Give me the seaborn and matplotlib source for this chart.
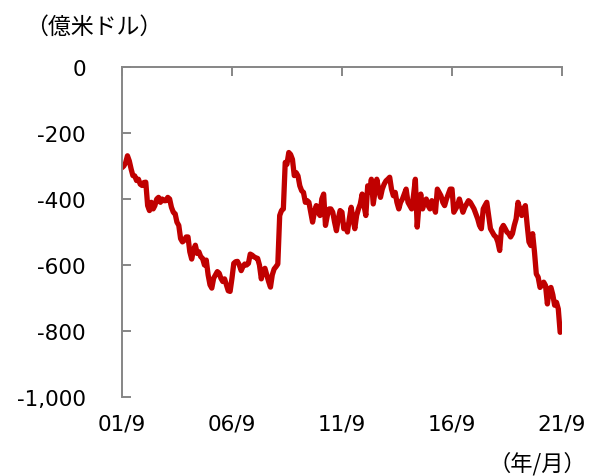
# US balance series, monthly, 2001/9 - 2021/8
import pandas as pd
import numpy as np
import seaborn as sns
import matplotlib.pyplot as plt

sns.set_style('white')
plt.rcParams['font.family'] = ['DejaVu Sans', 'Noto Sans CJK JP']
plt.rcParams['text.color'] = 'black'
plt.rcParams['xtick.labelcolor'] = 'black'
plt.rcParams['ytick.labelcolor'] = 'black'

# values (億米ドル)
values = [
    -305, -300, -290, -269, -285, -310, -329, -330, -344, -340,
    -355, -359, -350, -349, -420, -435, -410, -430, -420, -400,
    -395, -410, -400, -405, -405, -395, -400, -425, -440, -445,
    -470, -480, -520, -530, -525, -515, -515, -560, -582, -555,
    -540, -565, -560, -575, -580, -600, -585, -630, -660, -670,
    -640, -630, -620, -625, -640, -650, -642, -660, -678, -680,
    -640, -595, -590, -589, -600, -617, -605, -597, -600, -595,
    -567, -570, -575, -578, -580, -600, -642, -615, -610, -630,
    -650, -667, -630, -612, -605, -597, -450, -435, -430, -289,
    -295, -259, -265, -280, -329, -320, -330, -360, -375, -380,
    -410, -405, -410, -440, -470, -440, -420, -440, -450, -400,
    -385, -480, -450, -430, -430, -440, -470, -496, -460, -435,
    -440, -490, -480, -500, -460, -425, -460, -490, -450, -430,
    -415, -385, -420, -450, -360, -380, -340, -415, -380, -340,
    -370, -395, -370, -355, -345, -340, -334, -370, -390, -380,
    -410, -430, -410, -400, -385, -370, -410, -420, -430, -390,
    -340, -485, -420, -385, -430, -410, -400, -420, -430, -405,
    -420, -440, -370, -380, -390, -410, -420, -400, -385, -370,
    -370, -440, -430, -420, -400, -420, -440, -425, -415, -405,
    -410, -420, -430, -445, -460, -480, -490, -430, -420, -410,
    -450, -490, -500, -510, -515, -530, -556, -490, -480, -490,
    -500, -505, -515, -505, -480, -460, -410, -430, -450, -430,
    -420, -480, -530, -541, -505, -561, -627, -637, -668, -660,
    -652, -662, -718, -672, -668, -690, -722, -713, -733, -804,
]
dates = pd.date_range('2001-09-01', periods=len(values), freq='MS')

tick_dates = pd.to_datetime(['2001-09-01', '2006-09-01', '2011-09-01',
                             '2016-09-01', '2021-09-01'])
tick_labels = ['01/9', '06/9', '11/9', '16/9', '21/9']
y_ticks = [0, -200, -400, -600, -800, -1000]
y_labels = ['0', '-200', '-400', '-600', '-800', '-1,000']

df = pd.DataFrame({'date': dates, 'value': values})

fig = plt.figure(figsize=(5.89, 4.77), dpi=100)
ax = fig.add_axes([0.2071, 0.1656, 0.7471, 0.6918])

sns.lineplot(data=df, x='date', y='value', ax=ax, color='#C00000', linewidth=3.8)

ax.set_xlim(tick_dates[0], tick_dates[-1])
ax.set_ylim(-1000, 0)
ax.set_xticks(tick_dates)
ax.set_xticklabels(tick_labels)
ax.set_yticks(y_ticks)
ax.set_yticklabels(y_labels)
ax.set_xlabel('')
ax.set_ylabel('')

# x axis line sits at zero (top), labels stay at the bottom
ax.spines['right'].set_visible(False)
ax.spines['bottom'].set_visible(False)
for s in ['left', 'top']:
    ax.spines[s].set_color('#868686')
    ax.spines[s].set_linewidth(1.4)
ax.tick_params(axis='x', top=True, bottom=False, labeltop=False, labelbottom=True,
               direction='in', length=6.5, width=1.4, color='#868686',
               labelsize=15.5, pad=12)
ax.tick_params(axis='y', left=True, direction='in', length=6.5, width=1.4,
               color='#868686', labelsize=15.5, pad=26)

fig.text(0.043, 0.943, '（億米ドル）', fontsize=16.5, family=['Noto Sans CJK JP'],
         va='center', ha='left')
fig.text(0.995, 0.028, '（年/月）', fontsize=16, family=['Noto Sans CJK JP'],
         va='center', ha='right')

fig.savefig('out.png', dpi=100)
